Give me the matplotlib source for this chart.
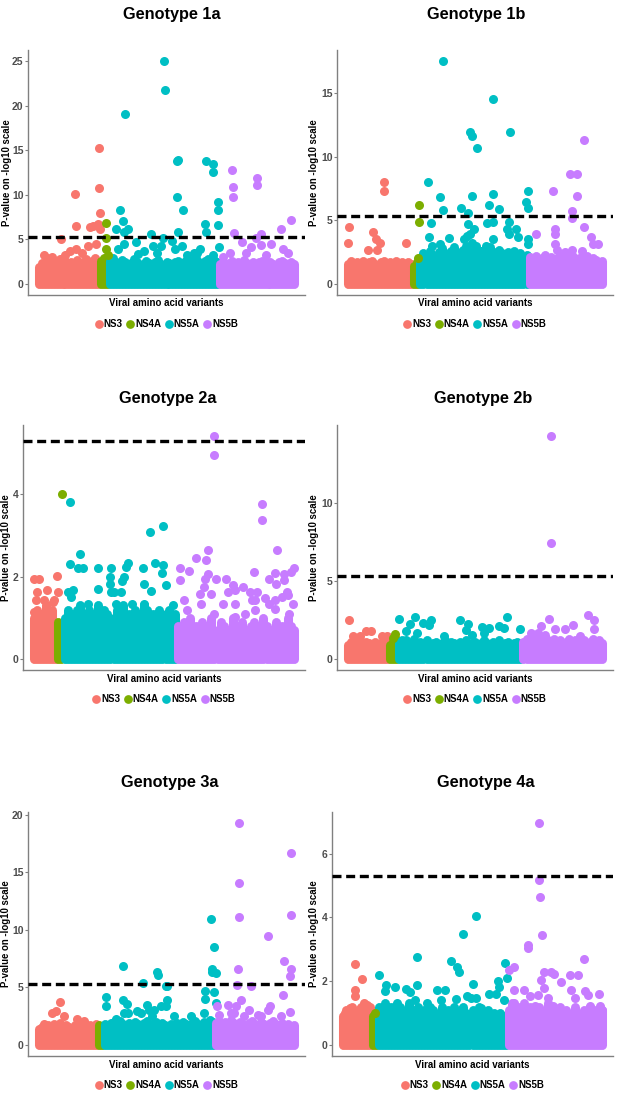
import numpy as np
import matplotlib
matplotlib.use('Agg')
import matplotlib.pyplot as plt
from matplotlib.lines import Line2D
from matplotlib.ticker import MultipleLocator

plt.rcParams['font.family'] = ['Liberation Sans', 'DejaVu Sans']

genes = ['NS3', 'NS4A', 'NS5A', 'NS5B']
gene_colors = ['#F8766D', '#7CAE00', '#00BFC4', '#C77CFF']
threshold = 5.3  # genome-wide cut-off, -log10 scale

# ---- dense part of each gene: top of the pile of variants, one value per position
# ---- hits: (variant position, -log10 p) for the points standing out above it

# Genotype 1a
band_1a_ns3 = [1.9, 2.3, 2.0, 2.5, 1.8, 2.2, 2.4, 2.0, 2.3, 2.6, 2.1, 2.4, 2.2, 2.7, 2.3, 2.5, 2.8, 2.4, 2.6, 2.9, 2.5]
band_1a_ns4a = [2.6, 2.9, 2.4]
band_1a_ns5a = [2.6, 2.9, 2.4, 2.2, 2.7, 2.5, 2.1, 2.3, 2.8, 2.4, 2.0, 2.2, 2.6, 2.3, 1.9, 2.4, 2.7, 2.2, 2.0,
                2.5, 2.3, 2.1, 2.4, 2.6, 2.2, 2.5, 2.8, 2.4, 2.7, 2.9, 2.5, 2.3, 2.6, 2.8, 2.4, 2.7, 2.5]
band_1a_ns5b = [2.2, 2.5, 2.0, 2.3, 2.6, 2.1, 2.4, 2.2, 2.7, 2.3, 2.0, 2.5, 2.2, 2.4, 2.6, 2.1, 2.3, 2.5, 2.2,
                2.0, 2.4, 2.6, 2.3, 2.1, 2.4, 2.2]
hits_1a_ns3 = [(1.8, 3.2), (4.4, 3.0), (7.5, 5.0), (12.1, 10.1), (12.7, 6.5), (10.5, 3.7), (12.7, 3.9),
               (17.1, 6.4), (18.3, 6.5), (19.9, 6.7), (20.3, 15.2), (20.3, 10.8), (20.5, 8.0), (20.6, 6.2),
               (16.6, 4.3), (19.4, 4.5), (14.4, 3.5), (7.1, 2.8), (8.8, 3.2), (2.7, 2.9)]
hits_1a_ns4a = [(22.5, 6.8), (22.7, 5.1), (22.7, 3.9), (23.2, 3.2)]
hits_1a_ns5a = [(27.4, 8.3), (29.0, 19.1), (28.3, 7.1), (26.0, 6.2), (28.8, 5.8), (29.9, 6.2), (28.8, 4.5),
                (32.7, 4.7), (26.6, 3.9), (33.3, 3.4), (37.7, 5.6), (38.3, 4.3), (41.8, 5.2), (42.1, 25.0),
                (42.4, 21.8), (46.6, 13.8), (47.0, 13.9), (46.4, 9.8), (46.8, 5.8), (48.6, 8.3), (44.9, 4.8),
                (46.0, 3.9), (48.3, 4.3), (49.9, 3.2), (52.1, 3.5), (54.4, 3.9), (56.3, 13.8), (56.1, 6.7),
                (56.3, 5.8), (58.6, 13.5), (58.8, 12.6), (60.5, 9.2), (60.5, 8.3), (60.5, 6.6), (60.7, 4.1),
                (58.8, 3.2), (39.9, 3.5), (41.0, 4.3), (35.5, 3.7), (53.3, 3.5)]
hits_1a_ns5b = [(64.9, 12.8), (65.5, 10.9), (65.5, 9.8), (65.8, 5.7), (68.3, 4.7), (73.3, 11.9), (73.6, 11.1),
                (73.0, 5.2), (74.9, 5.6), (74.9, 4.4), (71.6, 4.1), (78.3, 4.5), (81.6, 6.2), (85.0, 7.2),
                (83.8, 3.5), (82.1, 3.9), (64.4, 3.5), (62.1, 3.0), (69.9, 3.5), (76.6, 3.2)]

# Genotype 1b
band_1b_ns3 = [1.6, 1.8, 1.5, 1.7, 1.6, 1.8, 1.5, 1.7, 1.8, 1.6, 1.5, 1.7, 1.8, 1.6, 1.7, 1.5, 1.8, 1.6, 1.7,
               1.5, 1.7, 1.6]
band_1b_ns4a = [1.4, 1.7]
band_1b_ns5a = [2.0, 2.4, 2.2, 2.6, 2.3, 2.1, 2.5, 2.8, 2.4, 2.2, 2.6, 2.9, 2.5, 2.3, 2.7, 3.0, 2.6, 2.4, 2.8,
                2.5, 2.2, 2.6, 2.4, 2.9, 2.5, 2.3, 2.7, 2.4, 2.2, 2.5, 2.3, 2.6, 2.2, 2.4, 2.1, 2.3]
band_1b_ns5b = [2.1, 1.9, 2.2, 1.8, 2.0, 2.3, 1.9, 2.1, 1.7, 2.0, 2.2, 1.8, 2.1, 1.9, 2.3, 2.0, 1.8, 2.1, 1.9,
                2.2, 1.8, 2.0, 1.9, 1.7, 1.8]
hits_1b_ns3 = [(0.3, 4.5), (0.2, 3.2), (11.9, 8.0), (12.0, 7.3), (8.5, 4.1), (9.4, 3.5), (10.5, 3.2),
               (6.7, 2.7), (9.6, 2.7), (19.1, 3.2)]
hits_1b_ns4a = [(23.6, 6.2), (23.6, 4.9), (23.3, 2.0)]
hits_1b_ns5a = [(26.4, 8.0), (27.4, 4.8), (30.3, 6.8), (31.4, 17.5), (31.4, 5.8), (26.7, 3.7), (27.8, 3.0),
                (30.3, 3.1), (33.3, 3.6), (37.4, 6.0), (39.8, 5.6), (40.2, 11.9), (40.9, 11.6), (42.8, 10.7),
                (40.9, 6.9), (39.8, 4.7), (40.5, 3.9), (41.7, 4.3), (42.2, 3.0), (38.3, 3.5), (47.8, 14.5),
                (48.0, 7.1), (46.7, 6.2), (50.0, 5.9), (46.1, 4.8), (47.8, 4.9), (47.8, 3.5), (45.5, 3.0),
                (53.7, 11.9), (53.1, 4.9), (52.5, 4.3), (53.3, 3.9), (56.1, 3.7), (55.5, 4.3), (58.9, 6.4),
                (59.6, 7.3), (59.6, 6.0), (59.4, 3.1), (59.6, 3.5), (49.4, 2.5), (43.9, 2.6), (35.0, 2.5),
                (39.4, 3.8), (41.1, 3.2)]
hits_1b_ns5b = [(67.8, 7.3), (73.3, 8.6), (75.5, 8.6), (75.5, 6.9), (73.9, 5.7), (73.9, 5.2), (74.1, 2.7),
                (77.9, 11.3), (77.9, 4.5), (68.3, 4.3), (68.5, 3.9), (68.3, 3.1), (68.9, 2.7), (62.2, 3.9),
                (80.3, 3.7), (80.8, 3.1), (82.5, 3.1), (71.7, 2.5), (77.2, 2.6)]

# Genotype 2a
band_2a_ns3 = [1.0, 1.2, 0.9, 1.1, 1.3, 1.0, 1.2, 0.9]
band_2a_ns4a = [0.9, 0.8]
band_2a_ns5a = [1.0, 1.2, 1.1, 0.9, 1.2, 1.3, 1.0, 1.1, 1.2, 0.9, 1.1, 1.3, 1.0, 1.2, 1.1, 0.9, 1.0, 1.2, 1.1,
                1.3, 1.0, 1.1, 0.9, 1.2, 1.0, 1.1, 1.3, 1.2, 1.0, 1.1, 0.9, 1.2, 1.0, 1.1, 1.2, 1.0, 1.1]
band_2a_ns5b = [0.8, 0.6, 0.9, 0.7, 1.0, 0.6, 0.8, 0.7, 0.9, 0.6, 0.8, 1.0, 0.7, 0.6, 0.9, 0.8, 0.6, 0.7, 1.0,
                0.8, 0.6, 0.9, 0.7, 0.6, 0.8, 0.9, 0.6, 0.7, 1.0, 0.8, 0.6, 0.7, 0.9, 0.6, 0.8, 0.7, 1.0, 0.8,
                0.7]
hits_2a_ns3 = [(0.0, 1.95), (1.7, 1.95), (1.1, 1.63), (4.2, 1.68), (7.6, 2.02), (7.8, 1.63), (0.6, 1.43),
               (3.4, 1.43), (6.1, 1.38), (6.7, 1.43), (0.0, 1.14), (4.5, 1.1)]
hits_2a_ns4a = [(9.1, 4.0)]
hits_2a_ns5a = [(11.9, 3.81), (11.7, 2.3), (15.2, 2.56), (14.5, 2.22), (16.1, 2.22), (11.1, 1.63), (12.8, 1.67),
                (12.0, 1.5), (20.9, 2.22), (20.9, 1.69), (25.2, 2.22), (25.0, 2.0), (24.8, 1.83), (25.2, 1.63),
                (26.1, 1.63), (28.6, 1.63), (29.5, 2.0), (28.9, 1.9), (30.0, 2.23), (30.6, 2.33), (35.6, 2.2),
                (36.1, 1.83), (38.4, 1.64), (38.0, 3.08), (39.5, 2.33), (42.2, 3.23), (42.2, 2.28), (41.9, 2.09),
                (43.0, 1.79), (32.2, 1.34), (36.1, 1.34), (26.7, 1.34), (45.6, 1.3), (17.8, 1.34)]
hits_2a_ns5b = [(47.8, 2.2), (47.8, 1.91), (50.6, 2.13), (48.9, 1.43), (53.1, 2.45), (56.1, 2.41), (56.9, 2.64),
                (56.9, 2.07), (55.8, 1.95), (54.2, 1.59), (57.8, 1.59), (58.7, 5.42), (58.7, 4.95), (59.5, 1.95),
                (62.8, 1.95), (63.4, 1.63), (65.0, 1.79), (65.6, 1.34), (68.4, 1.75), (70.6, 1.63), (72.0, 2.11),
                (72.8, 1.63), (72.2, 1.43), (74.5, 3.76), (74.5, 3.38), (75.6, 1.47), (76.7, 1.95), (78.7, 2.09),
                (79.5, 2.64), (79.2, 1.83), (78.9, 1.43), (81.7, 1.93), (81.7, 2.07), (82.8, 1.63), (83.9, 2.11),
                (85.0, 2.2), (83.1, 1.55), (78.9, 1.22), (68.9, 1.1), (50.0, 1.18), (58.9, 1.1), (65.6, 1.02),
                (72.2, 1.18), (83.4, 1.1), (84.5, 1.34), (54.5, 1.34), (61.7, 1.34), (55.6, 1.75), (65.6, 1.67),
                (71.1, 1.43), (81.1, 1.51), (76.7, 1.34)]

# Genotype 2b
band_2b_ns3 = [0.9, 1.1, 0.8, 1.0, 1.2, 0.9, 1.1, 1.0, 0.8, 1.1, 0.9, 1.0, 1.2, 1.0]
band_2b_ns4a = [0.9, 1.2, 1.3]
band_2b_ns5a = [1.0, 1.2, 0.9, 1.1, 1.0, 1.3, 0.9, 1.1, 1.0, 1.2, 0.9, 1.0, 1.1, 0.8, 1.0, 1.2, 0.9, 1.1, 1.0,
                0.9, 1.1, 1.0, 1.2, 0.9, 1.0, 1.1, 0.8, 1.0, 1.2, 1.0, 0.9, 1.1, 1.0, 1.2, 0.9, 1.0, 1.1, 0.9,
                1.0, 1.1, 0.9]
band_2b_ns5b = [1.1, 1.3, 1.0, 1.2, 1.4, 1.1, 1.3, 1.5, 1.2, 1.0, 1.3, 1.1, 1.2, 1.0, 1.1, 1.3, 1.0, 1.2, 1.1,
                0.9, 1.2, 1.0, 1.1, 1.3, 1.0, 1.2, 1.0]
hits_2b_ns3 = [(0.3, 2.46), (6.1, 1.76), (7.8, 1.76), (3.9, 1.44), (11.4, 1.44), (13.1, 1.44), (1.7, 1.44)]
hits_2b_ns4a = [(15.5, 1.61), (14.8, 1.34)]
hits_2b_ns5a = [(17.0, 2.55), (22.2, 2.68), (20.5, 2.23), (19.4, 1.76), (24.8, 2.29), (27.4, 2.46), (26.7, 2.19),
                (22.8, 1.66), (37.2, 2.46), (39.7, 2.23), (38.9, 1.87), (41.1, 1.51), (44.4, 2.04), (46.7, 1.97),
                (45.0, 1.66), (50.0, 2.08), (51.7, 1.97), (52.5, 2.68), (57.0, 1.91), (31.7, 1.44), (19.4, 1.23)]
hits_2b_ns5b = [(67.2, 14.25), (67.2, 7.39), (66.3, 2.55), (63.9, 2.08), (68.3, 1.91), (71.7, 1.91), (74.4, 2.19),
                (79.2, 2.82), (81.1, 2.46), (81.1, 1.91), (60.5, 1.66), (62.8, 1.66), (76.7, 1.44)]

# Genotype 3a
band_3a_ns3 = [1.4, 1.6, 1.3, 1.7, 1.5, 1.8, 1.6, 1.9, 1.5, 1.7, 1.6, 1.4, 1.7, 1.5, 1.8, 1.6, 1.4, 1.7, 1.5, 1.8]
band_3a_ns4a = [1.7, 1.6]
band_3a_ns5a = [1.8, 1.6, 1.9, 2.0, 1.7, 2.1, 1.8, 1.6, 1.9, 1.7, 2.0, 1.8, 1.6, 1.9, 2.1, 1.7, 1.8, 2.0, 1.6,
                1.9, 1.7, 1.5, 1.8, 1.6, 1.9, 1.7, 2.0, 1.8, 1.6, 1.9, 2.1, 1.8, 1.7, 2.0, 1.9, 2.2, 2.0]
band_3a_ns5b = [1.9, 2.1, 1.7, 2.0, 1.8, 2.2, 1.9, 1.7, 2.0, 1.8, 1.6, 1.9, 2.1, 1.8, 1.7, 2.0, 1.8, 1.6, 1.9,
                2.1, 1.8, 1.7, 1.9, 1.6, 1.8, 1.5, 1.7]
hits_3a_ns3 = [(7.2, 3.73), (4.4, 2.78), (5.6, 2.93), (8.3, 2.5), (12.8, 2.21), (15.0, 2.07), (1.7, 1.78)]
hits_3a_ns4a = []
hits_3a_ns5a = [(22.4, 4.16), (22.4, 3.41), (28.0, 6.86), (28.0, 3.93), (29.4, 3.59), (28.3, 2.78), (29.7, 2.78),
                (32.8, 2.93), (34.8, 5.37), (33.9, 2.78), (36.1, 3.5), (36.7, 3.07), (39.4, 6.37), (39.7, 6.08),
                (42.2, 5.08), (42.8, 5.14), (42.8, 3.93), (42.2, 3.36), (38.3, 3.07), (40.6, 3.36), (45.0, 2.5),
                (37.8, 2.5), (25.6, 2.21), (50.6, 2.5), (55.0, 2.78), (55.3, 4.65), (55.3, 3.99), (57.4, 10.96),
                (58.3, 8.52), (57.8, 6.6), (57.8, 6.37), (58.9, 6.28), (58.3, 4.59), (58.9, 3.64)]
hits_3a_ns5b = [(66.7, 19.28), (66.7, 14.03), (66.7, 11.1), (66.3, 6.6), (66.1, 5.22), (67.2, 3.87), (65.6, 3.36),
                (65.0, 2.78), (70.6, 5.08), (70.0, 3.07), (72.8, 2.64), (76.1, 9.47), (77.0, 3.36), (76.1, 3.07),
                (81.7, 7.32), (81.4, 4.3), (83.9, 16.7), (83.9, 11.33), (83.9, 6.6), (83.7, 6.0), (83.7, 2.84),
                (80.6, 2.5), (62.8, 3.5), (63.9, 2.78), (68.3, 2.5), (73.9, 2.5), (59.4, 3.36), (60.0, 2.64)]

# Genotype 4a
band_4a_ns3 = [0.9, 1.1, 1.0, 1.2, 0.9, 1.1, 1.2, 1.0, 1.1, 1.2]
band_4a_ns4a = [0.9, 0.8]
band_4a_ns5a = [1.2, 1.1, 1.3, 1.0, 1.2, 1.1, 0.9, 1.2, 1.0, 1.1, 1.3, 1.0, 1.1, 1.2, 0.9, 1.1, 1.0, 1.2, 1.1,
                0.9, 1.0, 1.2, 1.0, 1.1, 0.9, 1.2, 1.0, 1.1, 1.2, 1.0, 0.9, 1.1, 1.0, 1.2, 0.9, 1.0, 1.1, 0.9,
                1.0, 0.8, 1.0, 0.9, 0.8]
band_4a_ns5b = [1.1, 1.3, 1.0, 1.2, 1.1, 1.3, 1.0, 1.2, 1.1, 0.9, 1.2, 1.0, 1.1, 1.3, 1.0, 1.1, 0.9, 1.2, 1.0,
                1.1, 0.9, 1.0, 1.2, 1.0, 0.9, 1.1, 1.0, 1.2, 0.9, 1.1, 1.0, 1.1]
hits_4a_ns3 = [(4.1, 2.54), (6.3, 2.06), (4.1, 1.73), (3.9, 1.52), (0.8, 1.0), (6.9, 1.32), (8.0, 1.26),
               (2.4, 1.16)]
hits_4a_ns4a = [(10.8, 1.0)]
hits_4a_ns5a = [(12.0, 2.18), (14.4, 1.89), (13.9, 1.68), (17.4, 1.83), (21.1, 1.75), (22.4, 1.66), (24.7, 2.77),
                (24.7, 1.89), (23.9, 1.42), (31.1, 1.73), (33.9, 1.71), (36.0, 2.64), (38.0, 2.46), (38.6, 2.3),
                (39.9, 3.47), (37.4, 1.44), (42.4, 1.47), (44.1, 4.03), (43.2, 1.91), (44.1, 1.47), (41.3, 1.52),
                (45.8, 1.16), (48.6, 1.6), (51.3, 1.99), (51.9, 1.81), (50.8, 1.6), (53.8, 2.56), (54.4, 2.11),
                (53.6, 1.42), (32.4, 1.42), (28.0, 1.32), (18.0, 1.32)]
hits_4a_ns5b = [(65.2, 6.96), (65.2, 5.18), (65.4, 4.63), (66.0, 3.46), (61.3, 3.13), (61.3, 3.03), (55.2, 2.35),
                (56.9, 2.44), (56.7, 1.73), (60.2, 1.71), (62.2, 1.52), (64.7, 1.58), (65.8, 2.04), (66.7, 2.3),
                (66.7, 1.78), (69.1, 2.3), (70.2, 2.23), (68.0, 1.47), (69.7, 1.21), (72.2, 1.96), (75.2, 2.18),
                (78.0, 2.18), (76.9, 1.47), (75.8, 1.73), (79.9, 2.68), (80.2, 1.68), (81.3, 1.58), (81.9, 1.21),
                (85.0, 1.6), (85.2, 1.21), (85.8, 1.11), (56.9, 1.32), (63.6, 1.23)]

panels = [
    ('Genotype 1a', [band_1a_ns3, band_1a_ns4a, band_1a_ns5a, band_1a_ns5b],
     [hits_1a_ns3, hits_1a_ns4a, hits_1a_ns5a, hits_1a_ns5b], 5),
    ('Genotype 1b', [band_1b_ns3, band_1b_ns4a, band_1b_ns5a, band_1b_ns5b],
     [hits_1b_ns3, hits_1b_ns4a, hits_1b_ns5a, hits_1b_ns5b], 5),
    ('Genotype 2a', [band_2a_ns3, band_2a_ns4a, band_2a_ns5a, band_2a_ns5b],
     [hits_2a_ns3, hits_2a_ns4a, hits_2a_ns5a, hits_2a_ns5b], 2),
    ('Genotype 2b', [band_2b_ns3, band_2b_ns4a, band_2b_ns5a, band_2b_ns5b],
     [hits_2b_ns3, hits_2b_ns4a, hits_2b_ns5a, hits_2b_ns5b], 5),
    ('Genotype 3a', [band_3a_ns3, band_3a_ns4a, band_3a_ns5a, band_3a_ns5b],
     [hits_3a_ns3, hits_3a_ns4a, hits_3a_ns5a, hits_3a_ns5b], 5),
    ('Genotype 4a', [band_4a_ns3, band_4a_ns4a, band_4a_ns5a, band_4a_ns5b],
     [hits_4a_ns3, hits_4a_ns4a, hits_4a_ns5a, hits_4a_ns5b], 2),
]

# layout in pixels: panel box (left, top, right, bottom), title centre, y-label offset
W, H = 617, 1098
boxes = [(28, 50, 305, 295), (337, 50, 613, 295),
         (23, 425, 305, 670), (337, 425, 613, 670),
         (28, 812, 305, 1056), (332, 812, 613, 1056)]
title_pos = [(172, 15), (476, 15), (168, 398), (483, 398), (170, 783), (486, 783)]
ylab_off = [-15.5, -17.8, -11.5, -17.8, -16.5, -12.8]

DOT = 6.5  # point diameter, pt
fig = plt.figure(figsize=(W / 100, H / 100), dpi=100)

for k, (title, bands, hits, step) in enumerate(panels):
    l, t, r, b = boxes[k]
    pw, ph = r - l, b - t
    ax = fig.add_axes([l / W, 1 - b / H, pw / W, ph / H])

    start = 0
    ymax = 0
    for band, pts, col in zip(bands, hits, gene_colors):
        x = start + np.arange(len(band))
        lc = ax.vlines(x, 0, band, colors=col, linewidth=DOT)
        lc.set_capstyle('round')
        if pts:
            hx, hy = zip(*pts)
            ax.scatter(hx, hy, s=DOT ** 2, color=col, linewidths=0, zorder=3)
            ymax = max(ymax, max(hy))
        ymax = max(ymax, max(band))
        start += len(band)

    ax.axhline(threshold, color='black', lw=2.4, dashes=(2.7, 1.4), zorder=4)

    n = start - 1
    ax.set_xlim(-0.042 * n, n * 1.042)
    ax.set_ylim(-0.05 * ymax, 1.05 * ymax)
    ax.yaxis.set_major_locator(MultipleLocator(step))

    for s in ['top', 'right']:
        ax.spines[s].set_visible(False)
    for s in ['left', 'bottom']:
        ax.spines[s].set_color('#808080')
        ax.spines[s].set_linewidth(1.0)
    ax.set_xticks([])
    ax.tick_params(axis='y', length=2.5, width=0.8, color='#808080', pad=0.8,
                   labelsize=7.5, labelcolor='#4d4d4d')
    for lab in ax.get_yticklabels():
        lab.set_fontweight('bold')

    ax.set_ylabel('P-value on -log10 scale', fontsize=6.9, fontweight='bold')
    ax.yaxis.set_label_coords(ylab_off[k] / pw, 0.5)
    ax.text(0.5, -8.5 / ph, 'Viral amino acid variants', transform=ax.transAxes,
            ha='center', va='center', fontsize=7, fontweight='bold')

    handles = [Line2D([], [], marker='o', ls='', color=c, markersize=6.3, markeredgewidth=0)
               for c in gene_colors]
    ax.legend(handles, genes, loc='center', bbox_to_anchor=(0.5, -29 / ph), ncol=4, frameon=False,
              prop={'size': 7, 'weight': 'bold'}, handlelength=0.8, handletextpad=0.1,
              columnspacing=0.4, borderaxespad=0, borderpad=0)

    tx, ty = title_pos[k]
    fig.text(tx / W, 1 - ty / H, title, ha='center', va='center', fontsize=11.7, fontweight='bold')

fig.savefig('out.png', dpi=100)
